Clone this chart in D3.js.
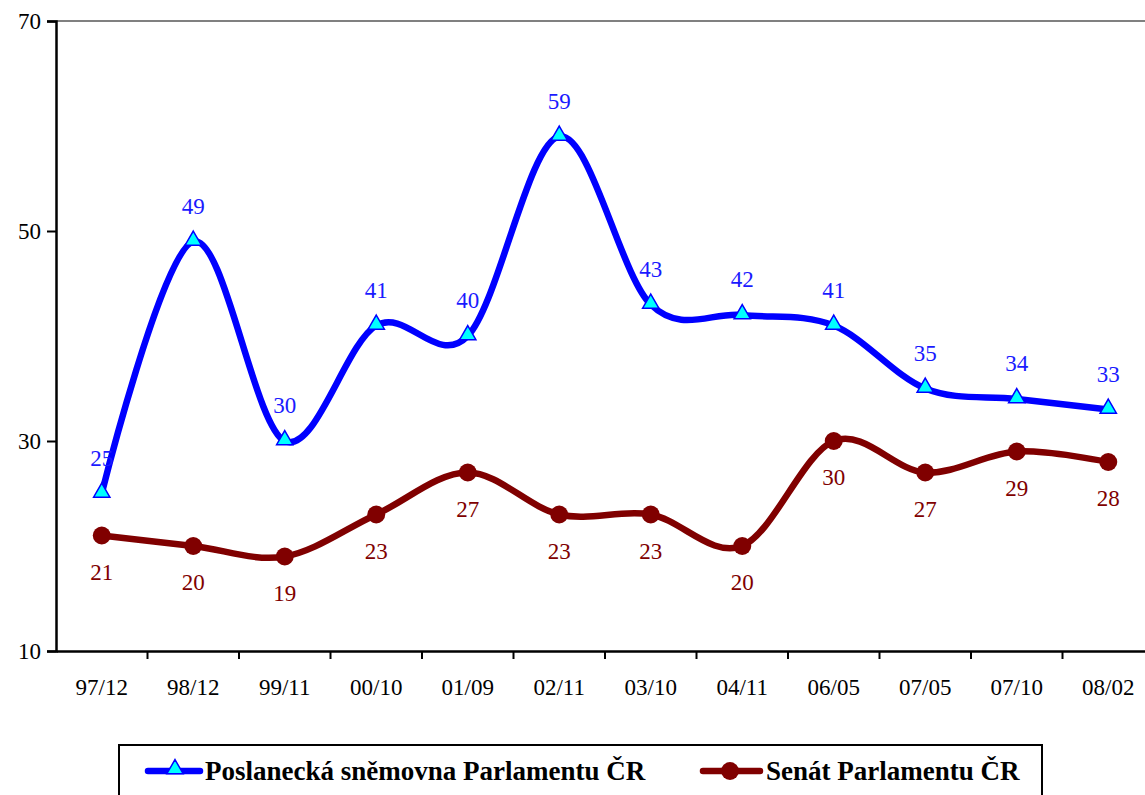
<!DOCTYPE html>
<html>
<head>
<meta charset="utf-8">
<script src="https://cdn.jsdelivr.net/npm/d3@7"></script>
<style>
  body { margin: 0; background: #fff; }
  svg { display: block; font-family: "Liberation Serif", "Times New Roman", serif; }
</style>
</head>
<body>
<svg id="chart" width="1145" height="795"></svg>
<script>
// data
const categories = ["97/12", "98/12", "99/11", "00/10", "01/09", "02/11", "03/10", "04/11", "06/05", "07/05", "07/10", "08/02"];
const poslanci = [25, 49, 30, 41, 40, 59, 43, 42, 41, 35, 34, 33];
const senat = [21, 20, 19, 23, 27, 23, 23, 20, 30, 27, 29, 28];
const yTicks = [10, 30, 50, 70];
const seriesNames = ["Poslanecká sněmovna Parlamentu ČR", "Senát Parlamentu ČR"];

const BLUE = "#0000ff";
const CYAN = "#00ffff";
const DARKRED = "#800000";

const svg = d3.select("#chart");

const x = d3.scaleBand().domain(categories).range([56, 1154]);
const y = d3.scaleLinear().domain([10, 70]).range([651, 21]);
const cx = d => x(d) + x.bandwidth() / 2;

// top border of plot area
svg.append("line")
  .attr("x1", 56).attr("x2", 1154)
  .attr("y1", y(70)).attr("y2", y(70))
  .attr("stroke", "#808080").attr("stroke-width", 2);

// y axis
const yAxis = svg.append("g")
  .attr("transform", "translate(56,0)")
  .call(d3.axisLeft(y).tickValues(yTicks).tickSize(9).tickPadding(6));

// x axis, ticks between categories
const xAxis = svg.append("g")
  .attr("transform", `translate(0,${y(10)})`)
  .call(d3.axisBottom(x).tickSize(0).tickPadding(28));

xAxis.selectAll(".sep")
  .data(categories.slice(1))
  .enter()
  .append("line")
  .attr("x1", d => x(d)).attr("x2", d => x(d))
  .attr("y1", 0).attr("y2", 8)
  .attr("stroke", "#000").attr("stroke-width", 2);

[yAxis, xAxis].forEach(a => {
  a.select(".domain").attr("stroke", "#000").attr("stroke-width", 2.5);
  a.selectAll(".tick line").attr("stroke", "#000").attr("stroke-width", 2);
  a.selectAll("text")
    .attr("font-family", "Liberation Serif, serif")
    .attr("font-size", 23)
    .attr("fill", "#000");
});

// smoothed lines
const line = d3.line()
  .x((d, i) => cx(categories[i]))
  .y(d => y(d))
  .curve(d3.curveCardinal.tension(0));

svg.append("path")
  .datum(senat)
  .attr("d", line)
  .attr("fill", "none")
  .attr("stroke", DARKRED)
  .attr("stroke-width", 6.5)
  .attr("stroke-linejoin", "round");

svg.append("path")
  .datum(poslanci)
  .attr("d", line)
  .attr("fill", "none")
  .attr("stroke", BLUE)
  .attr("stroke-width", 6.5)
  .attr("stroke-linejoin", "round");

// markers
const tri = d3.symbol().type(d3.symbolTriangle).size(115);

svg.append("g")
  .selectAll("circle")
  .data(senat)
  .enter()
  .append("circle")
  .attr("cx", (d, i) => cx(categories[i]))
  .attr("cy", d => y(d))
  .attr("r", 9)
  .attr("fill", DARKRED);

svg.append("g")
  .selectAll("path")
  .data(poslanci)
  .enter()
  .append("path")
  .attr("d", tri)
  .attr("transform", (d, i) => `translate(${cx(categories[i])},${y(d) - 1})`)
  .attr("fill", CYAN)
  .attr("stroke", BLUE)
  .attr("stroke-width", 1.5);

// value labels
svg.append("g")
  .selectAll("text")
  .data(poslanci)
  .enter()
  .append("text")
  .attr("x", (d, i) => cx(categories[i]))
  .attr("y", d => y(d) - 28)
  .attr("text-anchor", "middle")
  .attr("font-size", 23)
  .attr("fill", "#1a1aff")
  .text(d => d);

svg.append("g")
  .selectAll("text")
  .data(senat)
  .enter()
  .append("text")
  .attr("x", (d, i) => cx(categories[i]))
  .attr("y", d => y(d) + 44)
  .attr("text-anchor", "middle")
  .attr("font-size", 23)
  .attr("fill", DARKRED)
  .text(d => d);

// legend
const legend = svg.append("g");
legend.append("rect")
  .attr("x", 119).attr("y", 745)
  .attr("width", 923).attr("height", 70)
  .attr("fill", "#fff")
  .attr("stroke", "#000")
  .attr("stroke-width", 2);

const ly = 771;
legend.append("line")
  .attr("x1", 148).attr("x2", 200)
  .attr("y1", ly).attr("y2", ly)
  .attr("stroke", BLUE).attr("stroke-width", 6.5).attr("stroke-linecap", "round");
legend.append("path")
  .attr("d", tri)
  .attr("transform", `translate(175,${ly - 2})`)
  .attr("fill", CYAN).attr("stroke", BLUE).attr("stroke-width", 1.5);
legend.append("text")
  .attr("x", 205).attr("y", 780)
  .attr("font-size", 27).attr("font-weight", "bold")
  .text(seriesNames[0]);

legend.append("line")
  .attr("x1", 703).attr("x2", 760)
  .attr("y1", ly).attr("y2", ly)
  .attr("stroke", DARKRED).attr("stroke-width", 6.5).attr("stroke-linecap", "round");
legend.append("circle")
  .attr("cx", 730).attr("cy", ly).attr("r", 9)
  .attr("fill", DARKRED);
legend.append("text")
  .attr("x", 766).attr("y", 780)
  .attr("font-size", 27).attr("font-weight", "bold")
  .text(seriesNames[1]);
</script>
</body>
</html>
